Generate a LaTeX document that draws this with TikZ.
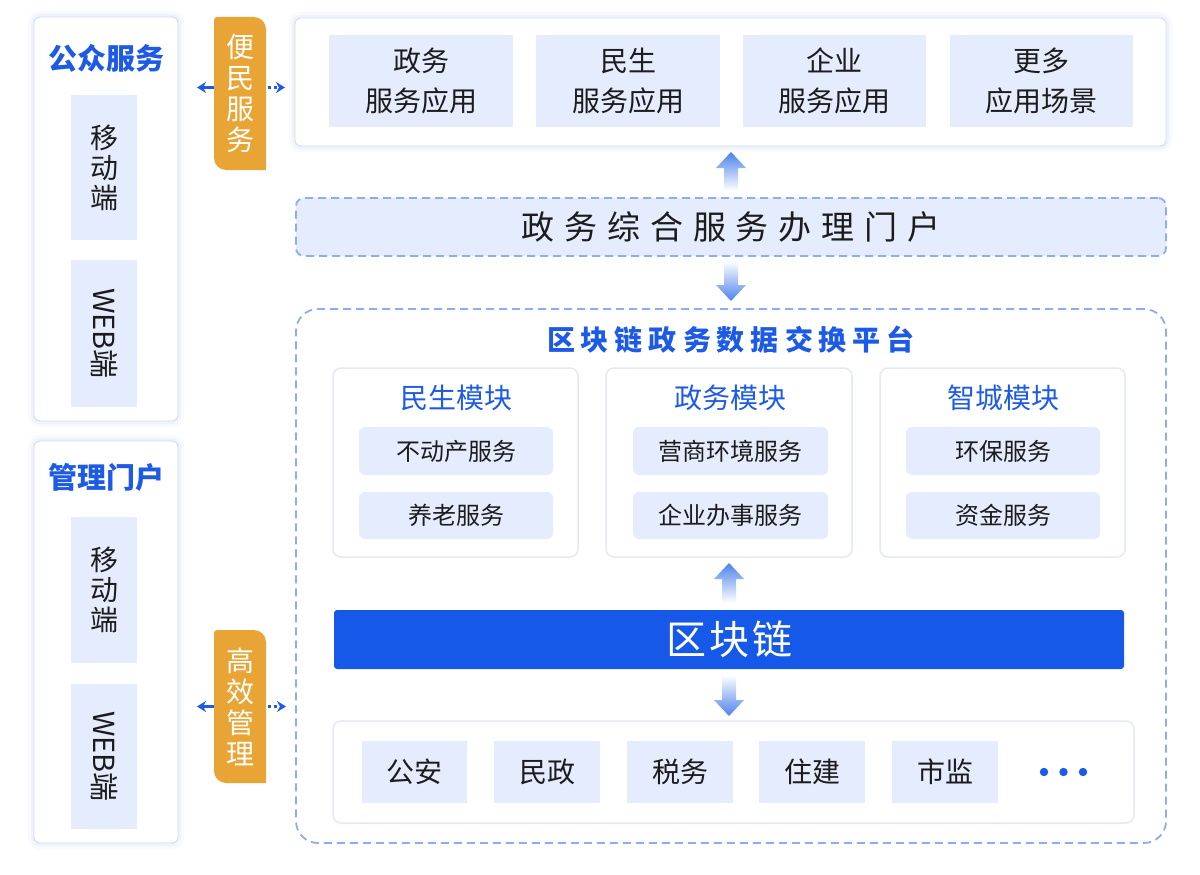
\documentclass[tikz,border=0pt]{standalone}
\usepackage{fontspec}
\setmainfont{Noto Sans CJK SC}
\usetikzlibrary{calc,arrows.meta}
\definecolor{tblue}{HTML}{1D5BE6}
\definecolor{barblue}{HTML}{1658E8}
\definecolor{lfill}{HTML}{E5ECFD}
\definecolor{tabor}{HTML}{E8A536}
\definecolor{dashc}{HTML}{8AADF3}
\definecolor{pborder}{HTML}{D0D9EC}
\definecolor{shadc}{HTML}{C3CFEA}
\definecolor{mborder}{HTML}{E5E9F3}
\definecolor{arrowblue}{HTML}{4C82EC}
\definecolor{txt}{HTML}{1C1C1C}
\newcommand\fs[2]{\fontsize{#1}{#2}\selectfont}
\newcommand\bx[7][]{\node[inner sep=0pt, outer sep=0pt, minimum width={#4-#2}, minimum height={#5-#3}, #1] (#6) at ({(#2+#4)/2},{(#3+#5)/2}) {#7};}
\newcommand\fatup[2]{\shade[top color=arrowblue, middle color=arrowblue!80, bottom color=arrowblue!2] let \p1=#1, \p2=#2 in (\x1-7pt,\y1) -- (\x1-7pt,\y2-16pt) -- (\x1-15pt,\y2-16pt) -- (\x1,\y2) -- (\x1+15pt,\y2-16pt) -- (\x1+7pt,\y2-16pt) -- (\x1+7pt,\y1) -- cycle;}
\newcommand\fatdown[2]{\shade[top color=arrowblue!2, middle color=arrowblue!80, bottom color=arrowblue] let \p1=#1, \p2=#2 in (\x1-7pt,\y1) -- (\x1-7pt,\y2+16pt) -- (\x1-15pt,\y2+16pt) -- (\x1,\y2) -- (\x1+15pt,\y2+16pt) -- (\x1+7pt,\y2+16pt) -- (\x1+7pt,\y1) -- cycle;}
\newcommand\tabshape[1]{\fill[tabor] ($(#1.north west)+(0,3)$) .. controls ($(#1.north west)+(0,1.3)$) and ($(#1.north west)+(1.3,0)$) .. ($(#1.north west)+(3,0)$) -- ($(#1.north east)+(-12,0)$) .. controls ($(#1.north east)+(-5.4,0)$) and ($(#1.north east)+(0,5.4)$) .. ($(#1.north east)+(0,12)$) -- (#1.south east) -- ($(#1.south west)+(12,0)$) .. controls ($(#1.south west)+(5.4,0)$) and ($(#1.south west)+(0,-5.4)$) .. ($(#1.south west)+(0,-12)$) -- cycle;}
\tikzset{
  panel/.style={fill=white, draw=pborder, line width=0.8pt, rounded corners=6pt,
    preaction={draw=shadc, line width=12pt, opacity=0.10},
    preaction={draw=shadc, line width=6pt, opacity=0.15}},
  modbox/.style={fill=white, draw=mborder, line width=1.5pt, rounded corners=8pt},
  lbox/.style={fill=lfill},
  rbox/.style={fill=lfill, rounded corners=6pt},
  dbox/.style={draw=dashc, line width=1.8pt, dash pattern=on 8pt off 5pt},
  larr/.style={tblue, line width=2.4pt, -{Stealth[length=9pt,width=11pt]}},
  rarr/.style={larr, dash pattern=on 3pt off 3pt},
  every node/.append style={text=txt}
}
\begin{document}
\begin{tikzpicture}[x=1pt,y=-1pt]
\useasboundingbox (0,0) rectangle (1200,875);
\fill[white] (0,0) rectangle (1200,875);

% left panels
\bx[panel]{34}{17}{178}{421}{pan1}{}
\node[font=\bfseries\fs{29}{32}, text=tblue] (pan1t) at (106,58) {公众服务};
\bx[lbox]{71}{95}{137}{240}{m1}{}
\node[align=center, font=\fs{28}{30}] (m1t) at (m1) {移\\动\\端};
\bx[lbox]{71}{260}{137}{407}{w1}{}
\node[rotate=-90, font=\fs{29}{30}] (w1t) at (w1) {WEB端};

\bx[panel]{34}{441}{178}{843}{pan2}{}
\node[font=\bfseries\fs{29}{32}, text=tblue] (pan2t) at (106,477) {管理门户};
\bx[lbox]{71}{517}{137}{663}{m2}{}
\node[align=center, font=\fs{28}{30}] (m2t) at (m2) {移\\动\\端};
\bx[lbox]{71}{684}{137}{829}{w2}{}
\node[rotate=-90, font=\fs{29}{30}] (w2t) at (w2) {WEB端};

% top box
\bx[panel]{295}{18}{1166}{146}{topbox}{}
\bx[lbox, align=center, font=\fs{28}{40}]{329}{35}{513}{127}{a1}{政务\\服务应用}
\bx[lbox, align=center, font=\fs{28}{40}]{536}{35}{720}{127}{a2}{民生\\服务应用}
\bx[lbox, align=center, font=\fs{28}{40}]{743}{35}{926}{127}{a3}{企业\\服务应用}
\bx[lbox, align=center, font=\fs{28}{40}]{950}{35}{1133}{127}{a4}{更多\\应用场景}

% tabs
\bx{214}{17}{266}{170}{tab1}{}
\tabshape{tab1}
\node[text=white, align=center, font=\fs{28}{31}] (tab1t) at (tab1) {便\\民\\服\\务};
\bx{214}{630}{266}{783}{tab2}{}
\tabshape{tab2}
\node[text=white, align=center, font=\fs{28}{31}] (tab2t) at (tab2) {高\\效\\管\\理};

% portal
\bx[dbox, fill=lfill, rounded corners=8pt, font=\fs{33}{36}]{296}{198}{1166}{256}{portal}{政\kern9.8pt 务\kern9.8pt 综\kern9.8pt 合\kern9.8pt 服\kern9.8pt 务\kern9.8pt 办\kern9.8pt 理\kern9.8pt 门\kern9.8pt 户}

% platform
\bx[dbox, rounded corners=22pt]{296}{309}{1166}{843}{big}{}
\node[font=\bfseries\fs{28}{30}, text=tblue] (bigt) at (731,340) {区\kern6pt 块\kern6pt 链\kern6pt 政\kern6pt 务\kern6pt 数\kern6pt 据\kern6pt 交\kern6pt 换\kern6pt 平\kern6pt 台};

\bx[modbox]{333}{368}{578}{557}{mod1}{}
\bx[modbox]{606}{368}{852}{557}{mod2}{}
\bx[modbox]{880}{368}{1125}{557}{mod3}{}
\node[font=\fs{28}{32}, text=tblue] (mod1t) at (456,398) {民生模块};
\node[font=\fs{28}{32}, text=tblue] (mod2t) at (730,398) {政务模块};
\node[font=\fs{28}{32}, text=tblue] (mod3t) at (1003,398) {智城模块};
\bx[rbox, font=\fs{24}{28}]{359}{427}{553}{475}{s11}{不动产服务}
\bx[rbox, font=\fs{24}{28}]{359}{492}{553}{539}{s12}{养老服务}
\bx[rbox, font=\fs{24}{28}]{633}{427}{828}{475}{s21}{营商环境服务}
\bx[rbox, font=\fs{24}{28}]{633}{492}{828}{539}{s22}{企业办事服务}
\bx[rbox, font=\fs{24}{28}]{906}{427}{1100}{475}{s31}{环保服务}
\bx[rbox, font=\fs{24}{28}]{906}{492}{1100}{539}{s32}{资金服务}

\bx[fill=barblue, rounded corners=3pt, text=white, font=\fs{40}{44}]{334}{610}{1124}{669}{bar}{区\kern3pt 块\kern3pt 链}

\bx[modbox]{333}{721}{1134}{823}{bot}{}
\bx[lbox, font=\fs{28}{32}]{362}{741}{467}{803}{b1}{公安}
\bx[lbox, font=\fs{28}{32}]{494}{741}{600}{803}{b2}{民政}
\bx[lbox, font=\fs{28}{32}]{627}{741}{733}{803}{b3}{税务}
\bx[lbox, font=\fs{28}{32}]{759}{741}{865}{803}{b4}{住建}
\bx[lbox, font=\fs{28}{32}]{892}{741}{998}{803}{b5}{市监}
\fill[tblue] (1044,772) circle (4.2pt) (1063.5,772) circle (4.2pt) (1083,772) circle (4.2pt);

% fat arrows
\fatup{($(portal.north)+(0,-8)$)}{($(topbox.south)+(0,6)$)}
\fatdown{($(portal.south)+(0,6)$)}{($(big.north)+(0,-8)$)}
\fatup{($(bar.north)+(0,-8)$)}{($(mod2.south)+(0,6)$)}
\fatdown{($(bar.south)+(0,7)$)}{($(bot.north)+(0,-5)$)}

% tab arrows
\coordinate (t1w) at ([yshift=6pt]tab1.west);
\coordinate (t1e) at ([yshift=6pt]tab1.east);
\draw[larr, shorten >=19pt] (t1w) -- (t1w -| pan1.east);
\draw[rarr, shorten <=2pt, shorten >=10pt] (t1e) -- (t1e -| topbox.west);
\draw[larr, shorten >=19pt] (tab2.west) -- (tab2.west -| pan2.east);
\draw[rarr, shorten <=2pt, shorten >=10pt] (tab2.east) -- (tab2.east -| big.west);
\end{tikzpicture}
\end{document}
